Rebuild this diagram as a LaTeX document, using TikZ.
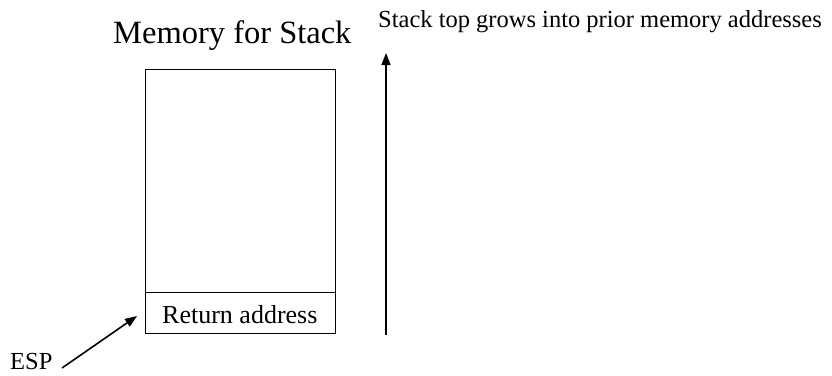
\documentclass[tikz,border=0pt]{standalone}
\usepackage{fontspec}
\setmainfont{Liberation Serif}
\usetikzlibrary{arrows.meta}
\begin{document}
\begin{tikzpicture}[x=1pt,y=-1pt,
  boxline/.style={draw=black, line width=0.9pt},
  arr/.style={line width=1.6pt, -{Triangle[length=12pt,width=9pt]}},
  lbl/.style={inner sep=0pt, anchor=base west}]
\useasboundingbox (0,0) rectangle (832,375);
\node[boxline, minimum width=190pt, minimum height=264pt, inner sep=0pt, anchor=north west] (mem) at (145,69) {};
\coordinate (divL) at (145,292);
\coordinate (divR) at (335,292);
\draw[boxline] (divL) -- (divR);
\node[lbl, font=\fontsize{32.5}{36}\selectfont] (title) at (113,43) {Memory for Stack};
\node[lbl, font=\fontsize{24.5}{28}\selectfont] (grow) at (378,27) {Stack top grows into prior memory addresses};
\node[lbl, font=\fontsize{26}{30}\selectfont] (ret) at (162,323) {Return address};
\node[lbl, font=\fontsize{24.5}{28}\selectfont] (esp) at (10,369.5) {ESP};
\coordinate (espS) at (62,368);
\coordinate (espT) at (137,316);
\draw[arr] (espS) -- (espT);
\coordinate (upS) at (386,335);
\coordinate (upT) at (386,53);
\draw[arr] (upS) -- (upT);
\end{tikzpicture}
\end{document}
